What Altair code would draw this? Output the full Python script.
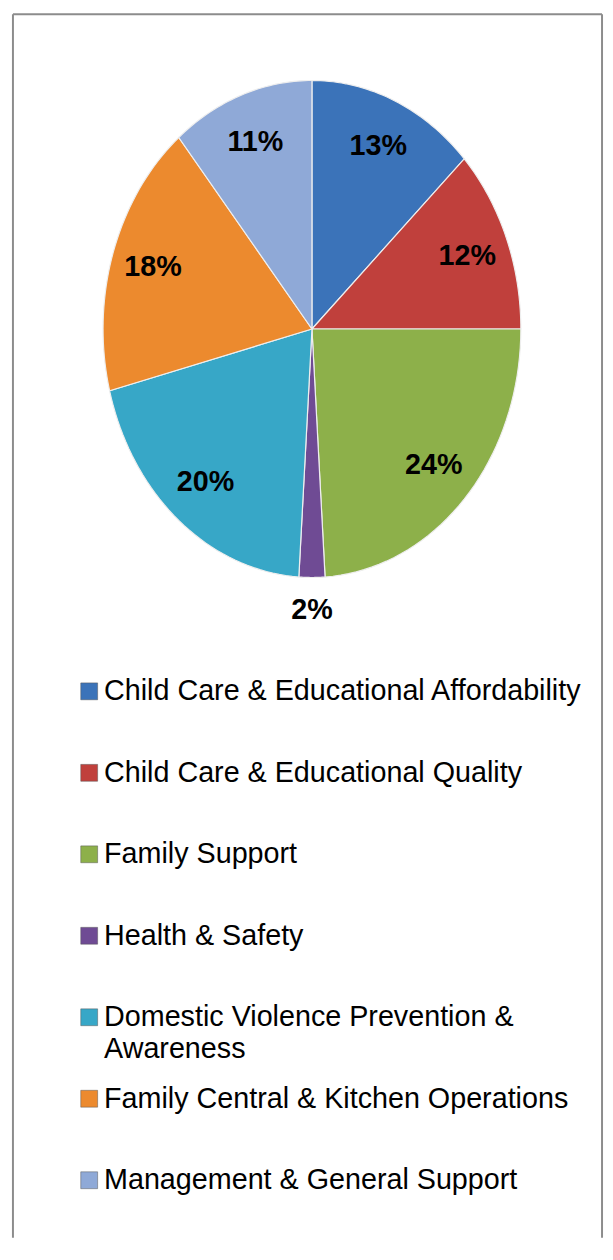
import altair as alt
import pandas as pd

categories = [
    "Child Care & Educational Affordability",
    "Child Care & Educational Quality",
    "Family Support",
    "Health & Safety",
    "Domestic Violence Prevention & Awareness",
    "Family Central & Kitchen Operations",
    "Management & General Support",
]
legend_labels = [
    "Child Care & Educational Affordability",
    "Child Care & Educational Quality",
    "Family Support",
    "Health & Safety",
    "Domestic Violence Prevention &\nAwareness",
    "Family Central & Kitchen Operations",
    "Management & General Support",
]
shares = [13, 12, 24, 2, 20, 18, 11]
colors = ["#3b73b9", "#c0403c", "#8db04a", "#6f4b94", "#37a7c7", "#ec8a2e", "#8fa9d7"]

W, H = 595, 1236
CX, CY, RX, RY = 302, 318, 211, 251
LEG_Y0, LEG_STEP = 684, 82.3
FONT = "Liberation Sans"

df = pd.DataFrame({
    "category": categories,
    "label": legend_labels,
    "share": shares,
    "order": list(range(len(categories))),
})

xenc = alt.X("px:Q", scale=alt.Scale(domain=[0, W], nice=False, zero=False), axis=None)
yenc = alt.Y("py:Q", scale=alt.Scale(domain=[0, H], nice=False, zero=False, reverse=True), axis=None)
cenc = alt.Color("category:N", scale=alt.Scale(domain=categories, range=colors), legend=None)

base = (
    alt.Chart(df)
    .transform_window(cum="sum(share)", sort=[alt.SortField("order")], frame=[None, 0])
    .transform_joinaggregate(total="sum(share)")
    .transform_calculate(a1="2*PI*datum.cum/datum.total")
    .transform_calculate(a0="2*PI*(datum.cum-datum.share)/datum.total")
)

slices = (
    base.transform_calculate(step="sequence(-1, 42)")
    .transform_flatten(["step"])
    .transform_calculate(ang="datum.a0 + (datum.a1 - datum.a0) * clamp(datum.step, 0, 40) / 40")
    .transform_calculate(edge="datum.step >= 0 && datum.step <= 40 ? 1 : 0")
    .transform_calculate(px=f"{CX} + datum.edge * {RX} * sin(datum.ang)")
    .transform_calculate(py=f"{CY} - datum.edge * {RY} * cos(datum.ang)")
    .mark_line(filled=True, stroke="#eeeeee", strokeWidth=1.2, interpolate="linear")
    .encode(x=xenc, y=yenc, color=cenc, order=alt.Order("step:Q"))
)

labels = (
    base.transform_calculate(mid="(datum.a0 + datum.a1) / 2")
    .transform_calculate(rl="datum.share < 5 ? 1.13 : 0.8")
    .transform_calculate(px=f"{CX} + datum.rl * {RX} * sin(datum.mid)")
    .transform_calculate(py=f"{CY} - datum.rl * {RY} * cos(datum.mid)")
    .transform_calculate(txt="datum.share + '%'")
    .mark_text(font=FONT, fontSize=29, fontWeight="bold", color="black")
    .encode(x=xenc, y=yenc, text="txt:N")
)

leg = alt.Chart(df).transform_calculate(py=f"{LEG_Y0} + datum.order * {LEG_STEP}")
squares = leg.mark_square(size=290, opacity=1, stroke="#555555", strokeWidth=0.5).encode(
    x=alt.value(77), y=yenc, color=cenc
)
texts = leg.mark_text(
    align="left", baseline="top", dy=-14, lineBreak="\n", lineHeight=32,
    font=FONT, fontSize=29, color="black"
).encode(x=alt.value(92), y=yenc, text="label:N")

bdf = alt.Chart(pd.DataFrame({"k": [0]}))
bl = bdf.mark_rule(color="#8c8c8c", strokeWidth=2).encode(x=alt.value(0), y=alt.value(0), y2=alt.value(H))
br = bdf.mark_rule(color="#8c8c8c", strokeWidth=2).encode(x=alt.value(W), y=alt.value(0), y2=alt.value(H))
bt = bdf.mark_rule(color="#8c8c8c", strokeWidth=2).encode(x=alt.value(0), x2=alt.value(W), y=alt.value(0))

chart = (
    alt.layer(slices, labels, squares, texts, bl, br, bt)
    .properties(
        width=W, height=H,
        padding={"left": 5, "top": 0, "right": 3, "bottom": 0},
        autosize="none",
    )
    .configure_view(stroke=None)
)

chart.save("out.html", embed_options={"renderer": "svg", "actions": False})
